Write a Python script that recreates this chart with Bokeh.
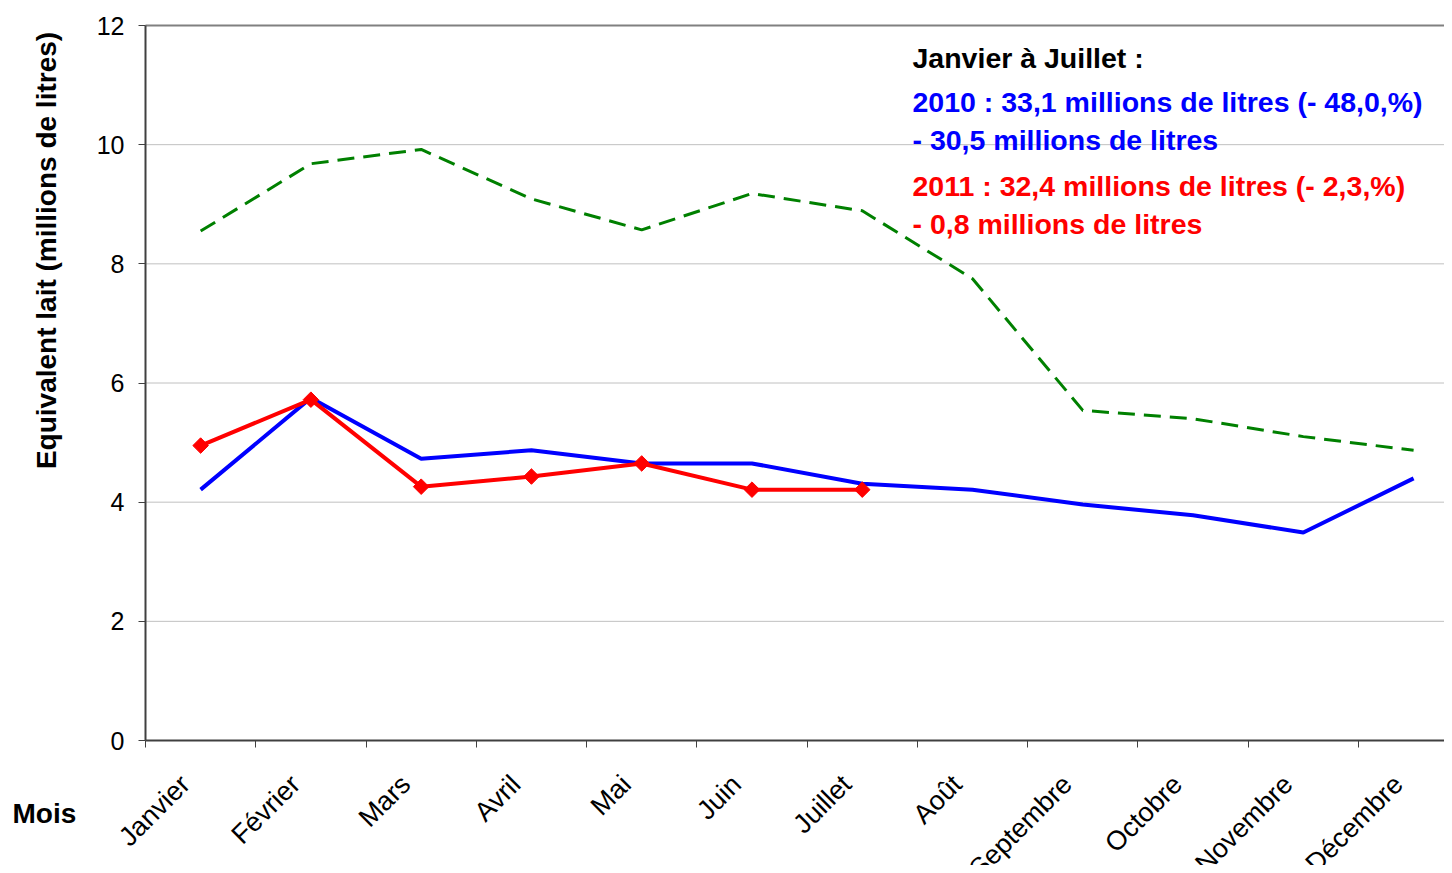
from math import pi
from bokeh.plotting import figure
from bokeh.models import Range1d, FixedTicker, Label, LabelSet, ColumnDataSource
from bokeh.core.properties import value
from bokeh.embed import file_html
from bokeh.resources import INLINE

# ---- data ----
months = ["Janvier", "Février", "Mars", "Avril", "Mai", "Juin", "Juillet",
          "Août", "Septembre", "Octobre", "Novembre", "Décembre"]
serie_2009 = [8.55, 9.68, 9.92, 9.09, 8.57, 9.18, 8.89, 7.75, 5.54, 5.40, 5.10, 4.87]
serie_2010 = [4.21, 5.75, 4.73, 4.87, 4.65, 4.65, 4.31, 4.21, 3.96, 3.78, 3.49, 4.40]
serie_2011 = [4.95, 5.72, 4.26, 4.43, 4.65, 4.21, 4.21]
y_ticks = [0, 2, 4, 6, 8, 10, 12]
y_title = "Equivalent lait (millions de litres)"
x_title = "Mois"
note_lines = [
    ("Janvier à Juillet :", "#000000"),
    ("2010 : 33,1 millions de litres (- 48,0,%)", "#0000FF"),
    ("- 30,5 millions de litres", "#0000FF"),
    ("2011 : 32,4 millions de litres (- 2,3,%)", "#FF0000"),
    ("- 0,8 millions de litres", "#FF0000"),
]

FONT = "Liberation Sans"
W, H = 1444, 865
# plot area geometry in pixels (left, top of value 12, bottom of value 0, px per category)
PX_LEFT, PX_TOP, PX_BOTTOM, PX_CAT = 145.0, 25.0, 740.0, 110.27
Y_MAX = 12.0
py = (PX_BOTTOM - PX_TOP) / Y_MAX
x0 = -PX_LEFT / PX_CAT
x1 = (W - PX_LEFT) / PX_CAT
y1 = Y_MAX + PX_TOP / py
y0 = -(H - PX_BOTTOM) / py
X_END = 11.844

xs = [i + 0.5 for i in range(len(months))]

p = figure(width=W, height=H,
           x_range=Range1d(x0, x1), y_range=Range1d(y0, y1),
           output_backend="svg", toolbar_location=None, min_border=0)
p.outline_line_color = None
p.background_fill_color = "white"
p.border_fill_color = "white"
p.xgrid.visible = False
p.ygrid.visible = False

# horizontal grid lines and top border
grid_vals = y_ticks[1:-1]
p.segment(x0=[0] * len(grid_vals), x1=[X_END] * len(grid_vals), y0=grid_vals, y1=grid_vals,
          line_color="#C0C0C0", line_width=1)
p.segment(x0=[0], x1=[X_END], y0=[y_ticks[-1]], y1=[y_ticks[-1]],
          line_color="#808080", line_width=2)

# y axis
p.yaxis.fixed_location = 0
p.yaxis.bounds = (0, Y_MAX)
p.yaxis.ticker = FixedTicker(ticks=y_ticks)
p.yaxis.major_label_text_font = FONT
p.yaxis.major_label_text_font_size = "25px"
p.yaxis.major_label_text_color = "black"
p.yaxis.major_label_standoff = 14
p.yaxis.major_tick_in = 0
p.yaxis.major_tick_out = 7
p.yaxis.major_tick_line_color = "#404040"
p.yaxis.minor_tick_line_color = None
p.yaxis.axis_line_color = "#404040"
p.yaxis.axis_line_width = 2

# x axis (tick marks only, labels drawn separately)
p.xaxis.fixed_location = 0
p.xaxis.bounds = (0, X_END)
p.xaxis.ticker = FixedTicker(ticks=list(range(len(months))))
p.xaxis.major_label_text_color = None
p.xaxis.major_label_text_font_size = "10px"
p.xaxis.major_tick_in = 0
p.xaxis.major_tick_out = 7
p.xaxis.major_tick_line_color = "#404040"
p.xaxis.minor_tick_line_color = None
p.xaxis.axis_line_color = "#404040"
p.xaxis.axis_line_width = 2

# series
p.line(xs, serie_2009, line_color="#008000", line_width=3, line_dash="17 9")
p.line(xs, serie_2010, line_color="#0000FF", line_width=4)
p.line(xs[:len(serie_2011)], serie_2011, line_color="#FF0000", line_width=4)
p.scatter(xs[:len(serie_2011)], serie_2011, marker="square", angle=pi / 4,
          size=11, fill_color="#FF0000", line_color="#FF0000")

# month labels
lab_src = ColumnDataSource(dict(x=[x - 0.14 for x in xs], y=[-0.66] * len(months), text=months))
p.add_layout(LabelSet(x="x", y="y", text="text", source=lab_src, angle=pi / 4,
                      text_align="right", text_baseline="middle",
                      text_font=value(FONT), text_font_size="27px", text_color="black"))

# axis titles
p.add_layout(Label(x=-0.902, y=8.224, text=y_title, angle=pi / 2,
                   text_align="center", text_baseline="middle",
                   text_font=FONT, text_font_size="28px", text_font_style="bold",
                   text_color="black"))
p.add_layout(Label(x=-1.206, y=-1.225, text=x_title,
                   text_align="left", text_baseline="middle",
                   text_font=FONT, text_font_size="28px", text_font_style="bold",
                   text_color="black"))

# notes
note_px = [57, 101, 139, 185, 223]
for (txt, col), pyy in zip(note_lines, note_px):
    p.add_layout(Label(x=(912 - PX_LEFT) / PX_CAT, y=(PX_BOTTOM - pyy) / py, text=txt,
                       text_align="left", text_baseline="middle", text_font=FONT,
                       text_font_size="28.5px", text_font_style="bold",
                       text_color=col))

open("out.html", "w").write(file_html(p, INLINE))
